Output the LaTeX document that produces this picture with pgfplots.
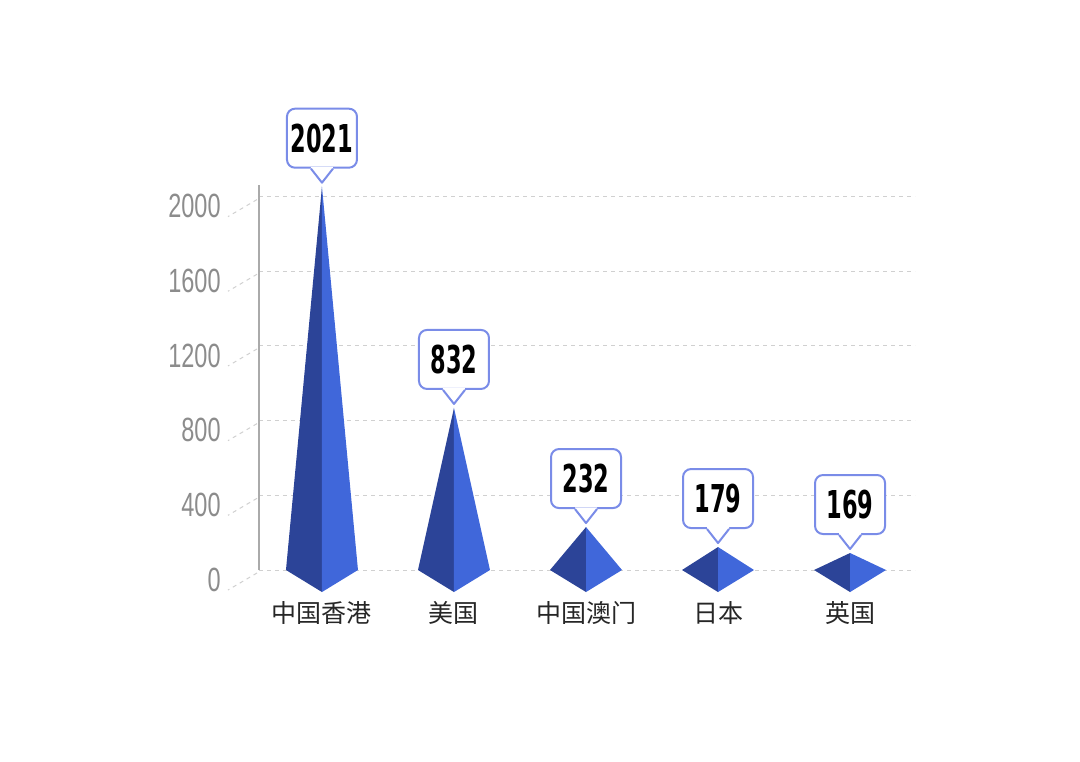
\documentclass[border=0pt]{standalone}
\usepackage{pgfplots}
\pgfplotsset{compat=1.18}
\usepackage{pgfplotstable}
\usepackage{fontspec}
\newfontfamily\cjk{Noto Sans CJK SC}
\newfontfamily\tickfont[FakeStretch=0.7]{Liberation Sans}
\newfontfamily\valfont[FakeStretch=0.65]{DejaVu Sans Condensed}
\definecolor{leftc}{RGB}{44,68,152}
\definecolor{rightc}{RGB}{64,103,218}
\definecolor{calloutc}{RGB}{122,140,232}
\definecolor{gridc}{RGB}{208,208,208}
\definecolor{tickc}{RGB}{140,140,140}
\definecolor{axc}{RGB}{170,170,170}
\pgfdeclareplotmark{pointer}{%
  \pgfpathmoveto{\pgfpoint{-5.5pt}{9pt}}%
  \pgfpathlineto{\pgfpoint{0pt}{2pt}}%
  \pgfpathlineto{\pgfpoint{5.5pt}{9pt}}%
  \pgfpathlineto{\pgfpoint{5.5pt}{9.9pt}}%
  \pgfpathlineto{\pgfpoint{-5.5pt}{9.9pt}}%
  \pgfpathclose
  \pgfsetfillcolor{white}%
  \pgfusepath{fill}%
  \pgfsetroundjoin
  \pgfpathmoveto{\pgfpoint{-5.5pt}{9pt}}%
  \pgfpathlineto{\pgfpoint{0pt}{2pt}}%
  \pgfpathlineto{\pgfpoint{5.5pt}{9pt}}%
  \pgfusepath{stroke}%
}
\pgfplotstableread{
x h val
0 2053 2021
1 868 832
2 230 232
3 123 179
4 91 169
}\apex
\begin{document}
\begin{tikzpicture}
\useasboundingbox (-129.5pt,-95.5pt) rectangle (410.5pt,285pt);
\begin{axis}[
  at={(0,0)}, anchor=south west,
  scale only axis, width=328pt, height=192.5pt,
  xmin=-0.477, xmax=4.492, ymin=0, ymax=2062,
  clip=false,
  axis y line=left, axis x line=bottom,
  x axis line style={draw=none},
  y axis line style={-, draw=axc, line width=0.75pt},
  major tick length=0pt,
  ytick={0,400,800,1200,1600,2000},
  yticklabels={0,400,800,1200,1600,2000},
  yticklabel style={font=\tickfont\fontsize{16.8}{17}\selectfont, text=tickc, anchor=east, inner sep=0pt, xshift=-19pt, yshift=-4.75pt},
  xtick={0,1,2,3,4},
  xticklabels={中国香港,美国,中国澳门,日本,英国},
  xticklabel style={font=\cjk\fontsize{12.5}{13}\selectfont, text=black!85, anchor=center, inner sep=0pt, yshift=-21.5pt},
  ymajorgrids,
  major grid style={draw=gridc, dash pattern=on 2pt off 2pt, line width=0.5pt},
]
% pyramid faces
\addplot[fill=leftc, draw=none] coordinates {(-0.2727,0) (0,2053) (0,-118)} -- cycle;
\addplot[fill=rightc, draw=none] coordinates {(0,-118) (0,2053) (0.2727,0)} -- cycle;
\addplot[fill=leftc, draw=none] coordinates {(0.7273,0) (1,868) (1,-118)} -- cycle;
\addplot[fill=rightc, draw=none] coordinates {(1,-118) (1,868) (1.2727,0)} -- cycle;
\addplot[fill=leftc, draw=none] coordinates {(1.7273,0) (2,230) (2,-118)} -- cycle;
\addplot[fill=rightc, draw=none] coordinates {(2,-118) (2,230) (2.2727,0)} -- cycle;
\addplot[fill=leftc, draw=none] coordinates {(2.7273,0) (3,123) (3,-118)} -- cycle;
\addplot[fill=rightc, draw=none] coordinates {(3,-118) (3,123) (3.2727,0)} -- cycle;
\addplot[fill=leftc, draw=none] coordinates {(3.7273,0) (4,91) (4,-118)} -- cycle;
\addplot[fill=rightc, draw=none] coordinates {(4,-118) (4,91) (4.2727,0)} -- cycle;
% callout boxes
\addplot[draw=none, mark=none, nodes near coords, point meta=explicit symbolic,
  every node near coord/.append style={draw=calloutc, line width=1pt, fill=white,
    rounded corners=4pt, minimum width=35pt, minimum height=29.5pt, inner sep=0pt,
    anchor=south, yshift=9pt, text=black,
    font=\valfont\bfseries\fontsize{19.2}{20}\selectfont}]
  table[x=x, y=h, meta=val]{\apex};
% callout pointers
\addplot[draw=none, only marks, mark=pointer, mark options={draw=calloutc, line width=1pt}]
  table[x=x, y=h]{\apex};
% perspective tick strokes
\pgfplotsinvokeforeach{0,400,800,1200,1600,2000}{
  \draw[gridc, dash pattern=on 2pt off 2pt, line width=0.5pt]
    ([shift={(-1pt,-1.5pt)}]axis cs:-0.477,#1) -- ([shift={(-15.5pt,-10pt)}]axis cs:-0.477,#1);
}
\end{axis}
\end{tikzpicture}
\end{document}
